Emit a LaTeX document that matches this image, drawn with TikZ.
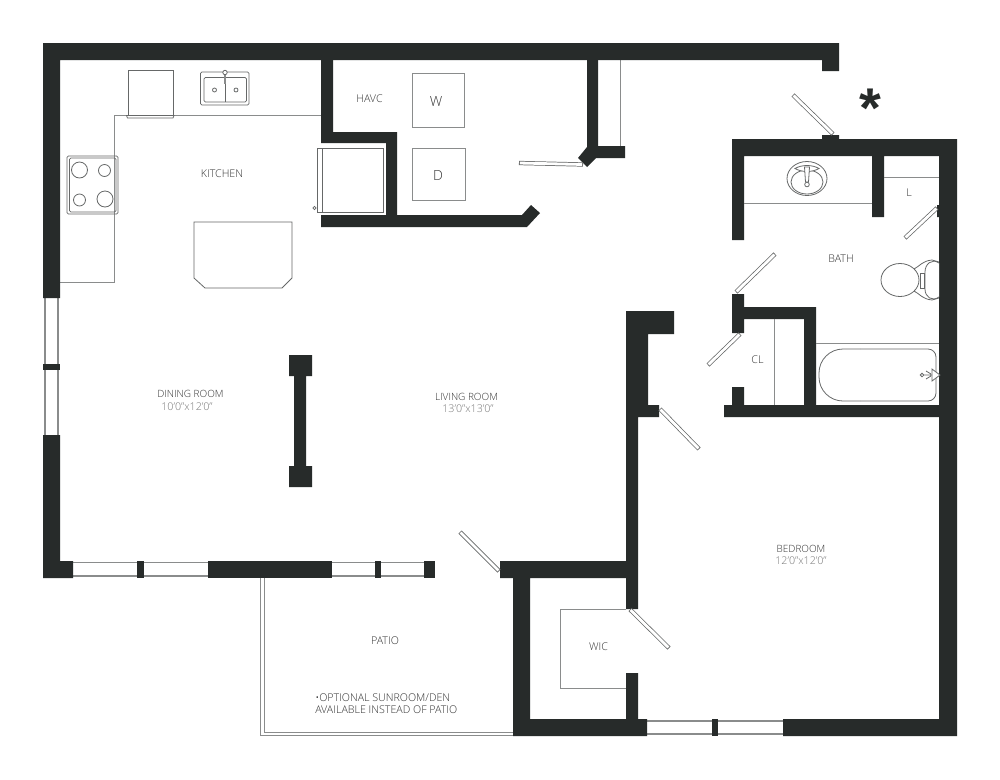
\documentclass[tikz,border=0pt]{standalone}
\usepackage{fontspec}
\setmainfont{Open Sans Light}[BoldFont=Open Sans]
\newfontfamily\starfont{Liberation Sans Bold}
\definecolor{wallc}{HTML}{272B2A}
\definecolor{linec}{HTML}{8A8C8C}
\definecolor{fixc}{HTML}{666868}
\definecolor{labelc}{HTML}{333333}
\definecolor{dimc}{HTML}{777777}
\tikzset{
 wall/.style={fill=wallc,draw=none},
 thin line/.style={draw=linec,line width=0.75pt},
 fixture/.style={draw=fixc,line width=0.6pt},
 winline/.style={draw=linec,line width=1pt},
 leafout/.style={draw=fixc,line width=3.2pt},
 leafin/.style={draw=white,line width=2.1pt,shorten >=0.6pt,shorten <=0.6pt},
 room/.style={text=labelc,font=\fontsize{8pt}{9pt}\selectfont,inner sep=0pt},
 roomwide/.style={text=labelc,font=\fontsize{7.5pt}{9pt}\selectfont,inner sep=0pt},
 dim/.style={text=dimc,font=\fontsize{8pt}{9pt}\selectfont,inner sep=0pt},
}
\begin{document}
\begin{tikzpicture}[x=0.75pt,y=-0.75pt]
\useasboundingbox[fill=white] (0,0) rectangle (1000,779);
% windows
\draw[winline] (45,298)--(45,435) (58,298)--(58,435);
\draw[winline] (73,562.5)--(208,562.5) (73,576)--(208,576);
\draw[winline] (332,562.5)--(424,562.5) (332,576)--(424,576);
\draw[winline] (647,721)--(783,721) (647,734)--(783,734);
% patio
\draw[thin line] (260.5,578)--(260.5,735.5)--(513,735.5);
\draw[thin line] (264,578)--(264,732)--(513,732);
% kitchen counters
\draw[thin line] (321,115)--(114,115)--(114,282)--(60,282);
\draw[thin line] (620,60)--(620,146);
% walls
\fill[wall] (43,43)--(839,43)--(839,71)--(822,71)--(822,60)--(60,60)--(60,298)--(43,298)--cycle;
\fill[wall] (43,364)rectangle(60,370);
\fill[wall] (43,435)--(60,435)--(60,561)--(73,561)--(73,578)--(43,578)--cycle;
\fill[wall] (137,561)rectangle(144,578);
\fill[wall] (208,561)rectangle(332,578);
\fill[wall] (375,561)rectangle(381,578);
\fill[wall] (424,561)rectangle(435,578);
\fill[wall] (321,60)--(333,60)--(333,132)--(397,132)--(397,215)--(522,215)--(531,205)--(540,213)--(527,227)--(321,227)--(321,215)--(386,215)--(386,143)--(321,143)--cycle;
\fill[wall] (587,60)--(598,60)--(598,146)--(625,146)--(625,158)--(596,158)--(587,167)--(578,158)--(587,147)--cycle;
% bath block
\fill[wall] (732,139)--(822,139)--(822,135)--(839,135)--(839,139)--(957,139)--(957,736)--(783,736)--(783,719)--(939,719)--(939,417)--(724,417)--(724,405)--(732,405)--(732,387)--(744,387)--(744,405)--(804,405)--(804,319)--(744,319)--(744,333)--(732,333)--(732,294)--(744,294)--(744,307)--(816,307)--(816,405)--(939,405)--(939,217)--(937,217)--(937,205)--(939,205)--(939,156)--(884,156)--(884,217)--(872,217)--(872,156)--(744,156)--(744,240)--(732,240)--cycle;
\fill[wall] (712,719)rectangle(718,736);
% central wall
\fill[wall] (626,311)--(674,311)--(674,334)--(648,334)--(648,405)--(659,405)--(659,417)--(638,417)--(638,609)--(626,609)--(626,578)--(530,578)--(530,719)--(626,719)--(626,673)--(638,673)--(638,719)--(647,719)--(647,736)--(513,736)--(513,578)--(500,578)--(500,561)--(626,561)--cycle;
% column
\fill[wall] (289,355)--(312,355)--(312,376)--(306,376)--(306,466)--(312,466)--(312,487)--(289,487)--(289,466)--(294,466)--(294,376)--(289,376)--cycle;
% doors
\coordinate (d1a) at (519,163); \coordinate (d1b) at (583,164.5);
\coordinate (d2a) at (793,95); \coordinate (d2b) at (833,134);
\coordinate (d3a) at (905,238); \coordinate (d3b) at (937,208);
\coordinate (d4a) at (736,292); \coordinate (d4b) at (775,254);
\coordinate (d5a) at (740,334); \coordinate (d5b) at (708,365);
\coordinate (d6a) at (660,409); \coordinate (d6b) at (699,449);
\coordinate (d7a) at (460,532); \coordinate (d7b) at (499,571);
\coordinate (d8a) at (630,609.5); \coordinate (d8b) at (669,648);
\foreach \n in {1,...,8}{\draw[leafout] (d\n a)--(d\n b);\draw[leafin] (d\n a)--(d\n b);}
% kitchen fixtures
\draw[fixture] (128,115)--(128,70.5)--(173,70.5)--(173,115);
\draw[fixture] (126.5,115.5)--(174,115.5)--(173,118)--(127.5,118)--cycle;
\draw[fixture,rounded corners=1pt] (200.5,72)rectangle(249,105);
\draw[fixture,rounded corners=1pt] (204,77.5)rectangle(246.5,102);
\draw[fixture] (225,77.5)--(225,102);
\draw[fixture] (214.5,90)circle(2) (236,90)circle(2);
\draw[fixture,line width=1.3pt,draw=linec] (225,74)--(225,84);
\draw[fixture,fill=white] (225,72.5)circle(2.2);
\draw[fixture,rounded corners=1pt] (67,156)rectangle(118,214);
\draw[fixture,rounded corners=1pt] (69.5,158)rectangle(116,212);
\draw[fixture] (79.5,170)circle(8) (104.5,170.5)circle(6) (79.5,200)circle(6) (105,199)circle(8);
\draw[fixture] (194,222)--(292,222)--(292,278)--(282,288)--(205,288)--(194,278)--cycle;
% fridge
\draw[fixture] (317,148)rectangle(383,212);
\draw[fixture] (322,148)--(322,212);
\draw[fixture] (314.5,208)circle(1.6);
% washer dryer
\draw[thin line] (412,73)rectangle(464,127);
\draw[thin line,line width=1.4pt] (464.5,73)--(464.5,127);
\draw[thin line] (412.5,148)rectangle(465,200);
% bath fixtures
\draw[thin line] (744,203)--(872,203);
\draw[thin line] (884,177)--(939,177);
\draw[fixture] (807,178.5)ellipse[x radius=20,y radius=17];
\draw[fixture] (807,182)ellipse[x radius=16,y radius=12];
\draw[fixture,fill=white] (795,168.5) .. controls (802,164.5) and (812,164.5) .. (819,168.5) .. controls (812,172.5) and (802,172.5) .. (795,168.5) -- cycle;
\draw[fixture,fill=white] (804.5,167)--(809.5,167)--(808.5,182)--(805.5,182)--cycle;
\draw[fixture,fill=white] (807,184.5)circle(2.3);
% toilet
\draw[fixture] (900,280)ellipse[x radius=19,y radius=16.5];
\draw[fixture] (914,269) .. controls (920,266) and (922,261) .. (932,260) -- (939,262);
\draw[fixture] (914,291) .. controls (920,294) and (922,299) .. (932,300) -- (939,298);
\draw[fixture,fill=white] (920,273)rectangle(924,288);
\draw[fixture,fill=white] (939,263) .. controls (932,258) and (925,264) .. (925,272) -- (925,289) .. controls (925,297) and (932,302) .. (939,297);
% closet and tub
\draw[thin line] (774,319)--(774,405);
\draw[thin line] (816,343)--(939,343);
\draw[fixture,rounded corners=18pt] (860,349)--(819,349)--(819,401)--(860,401);
\draw[fixture,rounded corners=6pt] (860,349)--(936,349)--(936,401)--(860,401);
\draw[fixture,fill=white] (932,369)--(940,375)--(932,381)--cycle;
\draw[fixture] (922,375)circle(1.8) (924,375)--(932,375) (926,371)--(931,374) (926,379)--(931,376);
% WIC
\draw[thin line] (626,609)--(560,609)--(560,688)--(626,688);
% labels
\node[room] (kitchen) at (222,174) {KITCHEN};
\node[room] (havc) at (369.5,99) {HAVC};
\node[room,font=\fontsize{10.5pt}{12pt}\selectfont] (w) at (436,101.5) {W};
\node[room,font=\fontsize{10.5pt}{12pt}\selectfont] (d) at (438,175.5) {D};
\node[room] (bath) at (841,258.5) {BATH};
\node[room] (lroom) at (909,192.5) {L};
\node[room] (cl) at (757.5,359.5) {CL};
\node[roomwide] (dining) at (190.5,393.5) {DINING ROOM};
\node[dim] (diningdim) at (187,407) {10'0"x12'0"};
\node[roomwide] (living) at (466.5,396.5) {LIVING ROOM};
\node[dim] (livingdim) at (468,409) {13'0"x13'0"};
\node[roomwide] (bedroom) at (801,548.5) {BEDROOM};
\node[dim] (bedroomdim) at (801,560.5) {12'0"x12'0"};
\node[room] (wic) at (598.5,646.5) {WIC};
\node[room] (patio) at (385,640.5) {PATIO};
\node[room,anchor=west] (note1) at (315,697.5) {•OPTIONAL SUNROOM/DEN};
\node[room,anchor=west] (note2) at (315,709.5) {AVAILABLE INSTEAD OF PATIO};
\node[inner sep=0pt,text=wallc,font=\starfont\fontsize{42pt}{42pt}\selectfont] (star) at (870,108.7) {*};
\end{tikzpicture}
\end{document}
